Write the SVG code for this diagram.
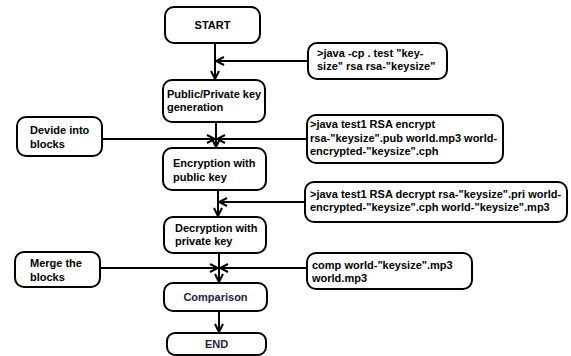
<svg xmlns="http://www.w3.org/2000/svg" width="571" height="356" viewBox="0 0 571 356">
<style>
.b{fill:#fff;stroke:#000;stroke-width:2}
.t{font-family:"Liberation Sans",Arial,sans-serif;font-weight:bold;font-size:11px;fill:#000}
.c{text-anchor:middle}
.n{fill:#1b2540}
.l{fill:none;stroke:#000;stroke-width:2}
</style>
<defs>
<marker id="ah" viewBox="0 0 10 10" refX="9" refY="5" markerWidth="5" markerHeight="5" orient="auto" markerUnits="strokeWidth">
<path d="M1,1 L9,5 L1,9" fill="none" stroke="#000" stroke-width="2"/>
</marker>
</defs>
<rect width="571" height="356" fill="#fff"/>
<g id="connectors">
<line class="l" x1="215" y1="43" x2="215" y2="79" marker-end="url(#ah)"/>
<line class="l" x1="308" y1="61" x2="216" y2="61" marker-end="url(#ah)"/>
<line class="l" x1="216" y1="122" x2="216" y2="147" marker-end="url(#ah)"/>
<line class="l" x1="102" y1="139" x2="215" y2="139" marker-end="url(#ah)"/>
<line class="l" x1="307" y1="139" x2="217" y2="139" marker-end="url(#ah)"/>
<line class="l" x1="218" y1="190" x2="218" y2="216" marker-end="url(#ah)"/>
<line class="l" x1="305" y1="202" x2="219" y2="202" marker-end="url(#ah)"/>
<line class="l" x1="219" y1="253" x2="219" y2="282" marker-end="url(#ah)"/>
<line class="l" x1="100" y1="268" x2="218" y2="268" marker-end="url(#ah)"/>
<line class="l" x1="307" y1="268" x2="220" y2="268" marker-end="url(#ah)"/>
<line class="l" x1="219" y1="311" x2="219" y2="332" marker-end="url(#ah)"/>
</g>
<g id="start">
<rect class="b" x="165" y="7" width="95" height="36" rx="9"/>
<text class="t c" x="212.5" y="29">START</text>
</g>
<g id="cmd1">
<rect class="b" x="308" y="43" width="139" height="36" rx="9"/>
<text class="t" x="317" y="57">&gt;java -cp . test "key-</text>
<text class="t" x="317" y="70">size" rsa rsa-"keysize"</text>
</g>
<g id="keygen">
<rect class="b" x="163" y="80" width="102" height="42" rx="9"/>
<text class="t" x="167" y="98">Public/Private key</text>
<text class="t" x="167" y="111">generation</text>
</g>
<g id="divide">
<rect class="b" x="17" y="117" width="85" height="39" rx="9"/>
<text class="t" x="30" y="134">Devide into</text>
<text class="t" x="30" y="148">blocks</text>
</g>
<g id="cmd2">
<rect class="b" x="307" y="115" width="196" height="48" rx="9"/>
<text class="t" x="310" y="128">&gt;java test1 RSA encrypt</text>
<text class="t" x="310" y="141.5">rsa-"keysize".pub world.mp3 world-</text>
<text class="t" x="310" y="155">encrypted-"keysize".cph</text>
</g>
<g id="encrypt">
<rect class="b" x="163" y="148" width="103" height="42" rx="9"/>
<text class="t" x="173" y="167">Encryption with</text>
<text class="t" x="173" y="181">public key</text>
</g>
<g id="cmd3">
<rect class="b" x="305" y="182" width="262" height="40" rx="9"/>
<text class="t" x="310" y="198">&gt;java test1 RSA decrypt rsa-"keysize".pri world-</text>
<text class="t" x="310" y="211">encrypted-"keysize".cph world-"keysize".mp3</text>
</g>
<g id="decrypt">
<rect class="b" x="164" y="217" width="102" height="36" rx="9"/>
<text class="t" x="175" y="232">Decryption with</text>
<text class="t" x="175" y="245">private key</text>
</g>
<g id="merge">
<rect class="b" x="15" y="252" width="85" height="35" rx="9"/>
<text class="t" x="30" y="267">Merge the</text>
<text class="t" x="30" y="281">blocks</text>
</g>
<g id="cmd4">
<rect class="b" x="307" y="253" width="165" height="36" rx="9"/>
<text class="t" x="312" y="269">comp world-"keysize".mp3</text>
<text class="t" x="312" y="282">world.mp3</text>
</g>
<g id="compare">
<rect class="b" x="164" y="283" width="103" height="28" rx="9"/>
<text class="t c n" x="215.5" y="301">Comparison</text>
</g>
<g id="end">
<rect class="b" x="167" y="333" width="99" height="22" rx="8"/>
<text class="t c n" x="216.5" y="348">END</text>
</g>
</svg>
